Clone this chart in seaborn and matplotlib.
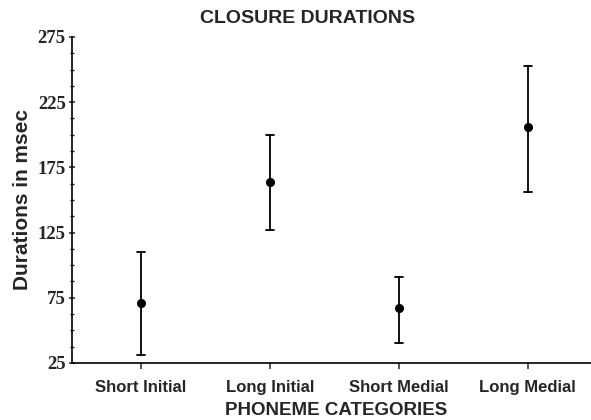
import numpy as np
import pandas as pd
import matplotlib
matplotlib.use('Agg')
import matplotlib.pyplot as plt
import seaborn as sns
from matplotlib.ticker import MultipleLocator

# values (msec)
categories = ['Short Initial', 'Long Initial', 'Short Medial', 'Long Medial']
means = [71, 164, 67, 206]
lower = [31, 127, 40, 156]
upper = [110, 200, 91, 253]
y_ticks = [25, 75, 125, 175, 225, 275]

# median of (low, mean, high) is the mean; min/max give the bar ends
df = pd.DataFrame({
    'category': np.repeat(categories, 3),
    'duration': np.ravel(np.column_stack([lower, means, upper])),
})

sns.set_style('ticks')

fig, ax = plt.subplots(figsize=(5.91, 4.2), dpi=100)
fig.subplots_adjust(left=0.122, right=1.0, bottom=0.136, top=0.912)

sns.pointplot(data=df, x='category', y='duration', order=categories,
              estimator='median', errorbar=lambda v: (v.min(), v.max()),
              linestyle='none', marker='o', markersize=4.5, color='black',
              capsize=0.065, err_kws={'linewidth': 1.3}, ax=ax)

ax.set_ylim(25, 275)
ax.set_xlim(-0.535, 3.49)
ax.set_yticks(y_ticks)
ax.yaxis.set_minor_locator(MultipleLocator(12.5))
sns.despine(ax=ax)
for s in ['left', 'bottom']:
    ax.spines[s].set_linewidth(1.2)
    ax.spines[s].set_color('black')

ax.tick_params(axis='y', which='major', direction='inout', length=5, width=1.1, pad=2)
ax.tick_params(axis='y', which='minor', direction='inout', length=3, width=1)
ax.tick_params(axis='x', direction='out', length=4, width=1.1, pad=8)

for lab in ax.get_yticklabels():
    lab.set_family('Liberation Serif')
    lab.set_fontsize(13.5)
    lab.set_fontweight('bold')
for lab in ax.get_xticklabels():
    lab.set_family('Liberation Sans')
    lab.set_fontsize(12)
    lab.set_fontweight('bold')

ax.set_xlabel('PHONEME CATEGORIES', fontsize=13.5, fontweight='bold', family='Liberation Sans')
ax.xaxis.set_label_coords(0.509, -0.12)
ax.set_ylabel('Durations in msec', fontsize=15, fontweight='bold', family='Liberation Sans')
ax.yaxis.set_label_coords(-0.078, 0.5)

fig.text(0.52, 0.955, 'CLOSURE DURATIONS', ha='center', va='center',
         fontsize=14, fontweight='bold', family='Liberation Sans')

fig.savefig('out.png', dpi=100)
